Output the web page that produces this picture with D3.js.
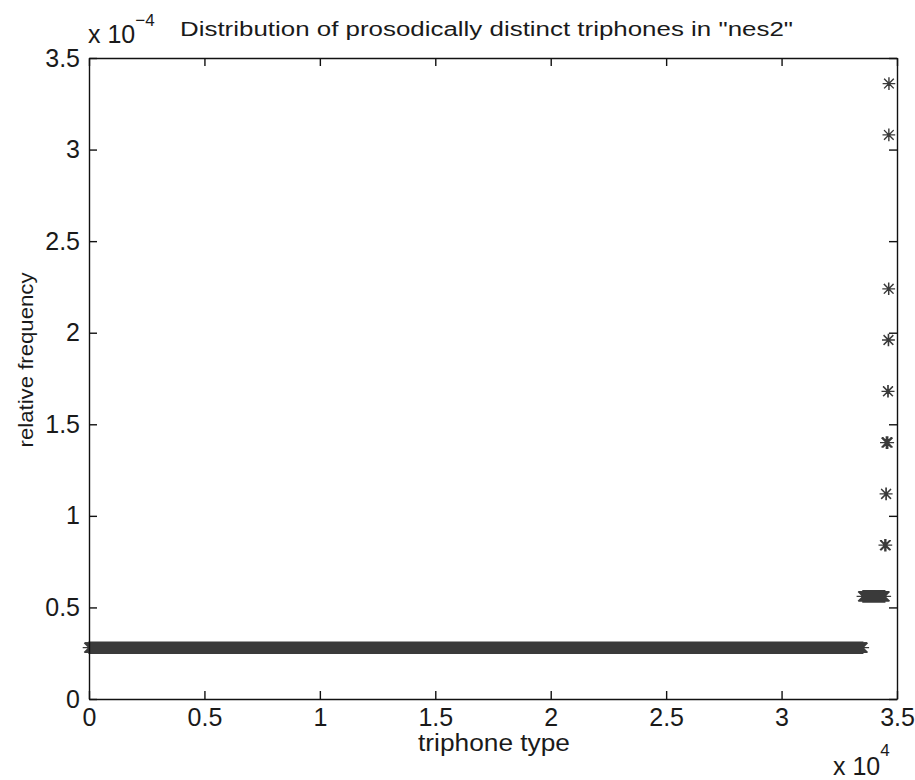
<!DOCTYPE html>
<html>
<head>
<meta charset="utf-8">
<script src="https://cdn.jsdelivr.net/npm/d3@7"></script>
<style>
  body { margin: 0; background: #fff; }
  svg text { font-family: "Liberation Sans", Arial, sans-serif; fill: #1a1a1a; }
  .axis path, .axis line { stroke: #111; stroke-width: 1.4; }
  .axis text, .expo { font-family: "Liberation Sans Narrow", "Liberation Sans", Arial, sans-serif; font-size: 25px; }
</style>
</head>
<body>
<div id="chart"></div>
<script>
// counts of each frequency level (types sorted by frequency)
var relFreq = [0.28e-4, 0.56e-4, 0.84e-4, 1.12e-4, 1.40e-4, 1.68e-4, 1.96e-4, 2.24e-4, 3.08e-4, 3.36e-4];
var typesPerLevel = [33520, 950, 50, 15, 65, 20, 15, 10, 5, 3];

var xTickValues = [0, 5000, 10000, 15000, 20000, 25000, 30000, 35000];
var xTickLabels = ["0", "0.5", "1", "1.5", "2", "2.5", "3", "3.5"];
var yTickValues = [0, 0.5e-4, 1e-4, 1.5e-4, 2e-4, 2.5e-4, 3e-4, 3.5e-4];
var yTickLabels = ["0", "0.5", "1", "1.5", "2", "2.5", "3", "3.5"];

var titleText = 'Distribution of prosodically distinct triphones in "nes2"';
var xLabel = "triphone type";
var yLabel = "relative frequency";

var W = 915, H = 780;
var margin = {top: 58, right: 18, bottom: 81, left: 89};
var width = W - margin.left - margin.right,
    height = H - margin.top - margin.bottom;

var svg = d3.select("#chart").append("svg")
  .attr("width", W)
  .attr("height", H);

var g = svg.append("g")
  .attr("transform", "translate(" + margin.left + "," + margin.top + ")");

var xScale = d3.scaleLinear().domain([0, 35000]).range([0, width]);
var yScale = d3.scaleLinear().domain([0, 3.5e-4]).range([height, 0]);

// expand the runs into one point per triphone type
var points = [];
var idx = 0;
relFreq.forEach(function(f, i) {
  for (var k = 0; k < typesPerLevel[i]; k++) {
    idx++;
    points.push([idx, f]);
  }
});

// matlab style '*' markers, all in one path
var r = 6.3, rd = 4.8;
var p = [];
points.forEach(function(d) {
  var x = xScale(d[0]), y = yScale(d[1]);
  p.push("M" + (x - r).toFixed(1) + "," + y.toFixed(1) + "h" + (2 * r));
  p.push("M" + x.toFixed(1) + "," + (y - r).toFixed(1) + "v" + (2 * r));
  p.push("M" + (x - rd).toFixed(1) + "," + (y - rd).toFixed(1) + "l" + (2 * rd) + "," + (2 * rd));
  p.push("M" + (x - rd).toFixed(1) + "," + (y + rd).toFixed(1) + "l" + (2 * rd) + "," + (-2 * rd));
});

g.append("path")
  .attr("d", p.join(""))
  .attr("fill", "none")
  .attr("stroke", "#3a3a3a")
  .attr("stroke-width", 1.3);

// axes, ticks pointing inward on all four sides
g.append("g")
  .attr("class", "x axis")
  .attr("transform", "translate(0," + height + ")")
  .call(d3.axisBottom(xScale)
    .tickValues(xTickValues)
    .tickFormat(function(d, i) { return xTickLabels[i]; })
    .tickSizeInner(-8).tickSizeOuter(0).tickPadding(9));

g.append("g")
  .attr("class", "y axis")
  .call(d3.axisLeft(yScale)
    .tickValues(yTickValues)
    .tickFormat(function(d, i) { return yTickLabels[i]; })
    .tickSizeInner(-8).tickSizeOuter(0).tickPadding(9));

g.append("g")
  .attr("class", "axis")
  .call(d3.axisTop(xScale)
    .tickValues(xTickValues).tickFormat("")
    .tickSizeInner(-8).tickSizeOuter(0));

g.append("g")
  .attr("class", "axis")
  .attr("transform", "translate(" + width + ",0)")
  .call(d3.axisRight(yScale)
    .tickValues(yTickValues).tickFormat("")
    .tickSizeInner(-8).tickSizeOuter(0));

g.selectAll(".axis text").attr("fill", "#1a1a1a");

// title
svg.append("text")
  .attr("x", 180)
  .attr("y", 36)
  .attr("textLength", 613)
  .attr("lengthAdjust", "spacingAndGlyphs")
  .style("font-size", "20px")
  .text(titleText);

// exponent labels
var expY = svg.append("text")
  .attr("class", "expo")
  .attr("x", 88)
  .attr("y", 43);
expY.append("tspan").text("x 10");
expY.append("tspan").attr("dy", -17).style("font-size", "17px").text("\u22124");

var expX = svg.append("text")
  .attr("class", "expo")
  .attr("x", 833)
  .attr("y", 775);
expX.append("tspan").text("x 10");
expX.append("tspan").attr("dy", -19).style("font-size", "17px").text("4");

// axis labels
svg.append("text")
  .attr("x", 494)
  .attr("y", 751)
  .attr("text-anchor", "middle")
  .attr("textLength", 152)
  .attr("lengthAdjust", "spacingAndGlyphs")
  .style("font-size", "23px")
  .text(xLabel);

svg.append("text")
  .attr("transform", "translate(33,360) rotate(-90)")
  .attr("text-anchor", "middle")
  .attr("textLength", 175)
  .attr("lengthAdjust", "spacingAndGlyphs")
  .style("font-size", "21px")
  .text(yLabel);
</script>
</body>
</html>
